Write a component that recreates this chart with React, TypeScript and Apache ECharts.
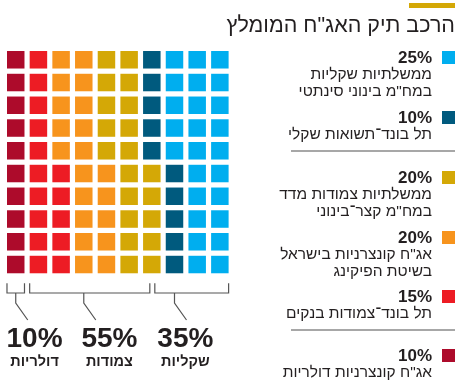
import React, { useEffect, useRef } from "react";
import * as echarts from "echarts";

// Categories in waffle order (left → right, bottom → top in each column)
const categoryPct = [10, 15, 20, 20, 10, 25];
const categoryColors = ["#AD0B2B", "#ED1C24", "#F7941D", "#D4A806", "#005A7E", "#00AEEF"];
const categoryLine1 = [
  "אג\"ח קונצרניות דולריות",
  "תל בונד־צמודות בנקים",
  "אג\"ח קונצרניות בישראל",
  "ממשלתיות צמודות מדד",
  "תל בונד־תשואות שקלי",
  "ממשלתיות שקליות",
];
const categoryLine2 = ["", "", "בשיטת הפיקינג", "במח\"מ קצר־בינוני", "", "במח\"מ בינוני סינתטי"];

// Groups below the waffle
const groupPct = [10, 55, 35];
const groupLabels = ["דולריות", "צמודות", "שקליות"];

const title = "הרכב תיק האג\"ח המומלץ";

const FONT = "'Liberation Sans', Arial, sans-serif";
const TEXT = "#231F20";

export default function App() {
  const ref = useRef<HTMLDivElement>(null);
  useEffect(() => {
    document.body.style.margin = "0";
    const chart = echarts.init(ref.current!, null, { renderer: "svg" });

    const cells: any[] = [];
    let k = 0;
    categoryPct.forEach((n, ci) => {
      for (let i = 0; i < n; i++) {
        const col = Math.floor(k / 10);
        const row = k % 10;
        cells.push({ value: [col, row], itemStyle: { color: categoryColors[ci], opacity: 1 } });
        k++;
      }
    });

    const option: any = {
      animation: false,
      grid: { left: 4.4, top: 48.4, width: 226.8, height: 227.5 },
      xAxis: { type: "value", min: -0.5, max: 9.5, show: false },
      yAxis: { type: "value", min: -0.5, max: 9.5, show: false },
      series: [
        {
          type: "scatter",
          symbol: "rect",
          symbolSize: 17.5,
          itemStyle: { opacity: 1 },
          data: cells,
          silent: true,
        },
      ],
    };
    chart.setOption(option);

    const px = (x: number, y: number) => chart.convertToPixel({ gridIndex: 0 }, [x, y]) as number[];
    const half = 0.386;
    const bTop = 283.3;
    const bBot = 293;
    const dropBot = 303;
    const diagBot = 320;
    const groupCats = [[0], [1, 2, 3], [4, 5]];
    const dropCols = [0, 3, 7];
    const labelCols = [0.83, 4.13, 7.48];
    const graphics: any[] = [];
    let startIdx = 0;
    groupCats.forEach((cats, gi) => {
      const cnt = cats.reduce((s, c) => s + categoryPct[c], 0);
      const endIdx = startIdx + cnt;
      const sCol = Math.floor(startIdx / 10);
      const eCol = Math.floor((endIdx - 1) / 10);
      const sx = startIdx % 10 === 0 ? px(sCol - half, 0)[0] : px(sCol, 0)[0] + 3;
      const ex = endIdx % 10 === 0 ? px(eCol + half, 0)[0] : px(eCol, 0)[0] - 2;
      const dx = px(dropCols[gi], 0)[0];
      graphics.push({
        type: "polyline",
        shape: { points: [[sx, bTop], [sx, bBot], [ex, bBot], [ex, bTop]] },
        style: { stroke: "#555", lineWidth: 1.2, fill: null },
      });
      graphics.push({
        type: "polyline",
        shape: { points: [[dx, bBot], [dx, dropBot], [dx + 12, diagBot]] },
        style: { stroke: "#555", lineWidth: 1.2, fill: null },
      });
      const cx = px(labelCols[gi], 0)[0];
      graphics.push({
        type: "text",
        style: {
          text: groupPct[gi] + "%",
          x: cx, y: 337.5, align: "center", verticalAlign: "middle",
          fontFamily: FONT, fontSize: 28, fontWeight: "bold", fill: TEXT,
        },
      });
      graphics.push({
        type: "text",
        style: {
          text: groupLabels[gi],
          x: cx, y: 361, align: "center", verticalAlign: "middle",
          fontFamily: FONT, fontSize: 14.5, fontWeight: "bold", fill: TEXT,
        },
      });
      startIdx = endIdx;
    });

    graphics.push({ type: "rect", shape: { x: 409, y: 3, width: 46, height: 5 }, style: { fill: "#D4A806" } });
    graphics.push({
      type: "text",
      style: { text: title, x: 455, y: 25, align: "right", verticalAlign: "middle", fontFamily: FONT, fontSize: 21.5, fill: TEXT },
    });

    const legendY = [57, 117, 177, 237, 296, 355];
    const order = [5, 4, 3, 2, 1, 0];
    order.forEach((ci, i) => {
      const y = legendY[i];
      graphics.push({ type: "rect", shape: { x: 442, y: y - 6, width: 13, height: 13 }, style: { fill: categoryColors[ci] } });
      graphics.push({
        type: "text",
        style: { text: categoryPct[ci] + "%", x: 432, y, align: "right", verticalAlign: "middle", fontFamily: FONT, fontSize: 17, fontWeight: "bold", fill: TEXT },
      });
      graphics.push({
        type: "text",
        style: { text: categoryLine1[ci], x: 432, y: y + 16.5, align: "right", verticalAlign: "middle", fontFamily: FONT, fontSize: 15.5, fill: TEXT },
      });
      if (categoryLine2[ci]) {
        graphics.push({
          type: "text",
          style: { text: categoryLine2[ci], x: 432, y: y + 33, align: "right", verticalAlign: "middle", fontFamily: FONT, fontSize: 15.5, fill: TEXT },
        });
      }
    });
    [151, 330].forEach((y) => {
      graphics.push({ type: "line", shape: { x1: 291, y1: y, x2: 455, y2: y }, style: { stroke: "#8A8A8A", lineWidth: 1.5 } });
    });

    chart.setOption({ graphic: graphics });
    return () => chart.dispose();
  }, []);
  return <div ref={ref} style={{ position: "fixed", left: 0, top: 0, width: 458, height: 383 }} />;
}
